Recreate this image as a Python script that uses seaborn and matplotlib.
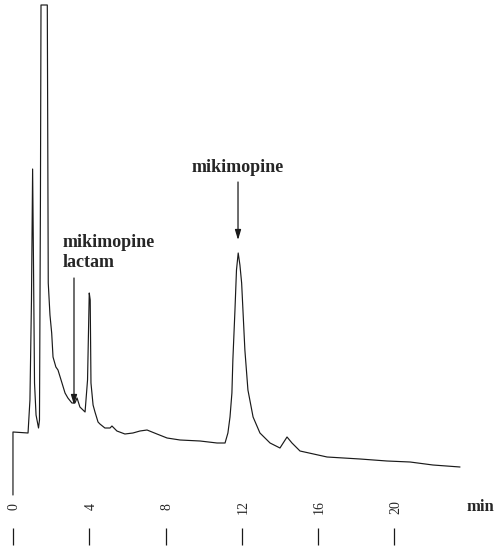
import numpy as np
import pandas as pd
import matplotlib
matplotlib.use('Agg')
import matplotlib.pyplot as plt
import seaborn as sns

#trace (retention time in min, detector signal)
time_min = [0.00, 0.00, 0.79, 0.89, 0.97, 1.03, 1.07, 1.13, 1.21, 1.34, 1.39, 1.44,
            1.47, 1.80, 1.85, 1.94, 2.03, 2.10, 2.25, 2.36, 2.57, 2.73, 2.88, 3.09,
            3.25, 3.36, 3.51, 3.78, 3.91, 4.00, 4.05, 4.09, 4.20, 4.30, 4.46, 4.56,
            4.82, 5.09, 5.19, 5.45, 5.87, 6.29, 6.66, 7.03, 7.55, 8.08, 8.76, 9.81,
            10.70, 11.12, 11.27, 11.38, 11.48, 11.53, 11.64, 11.72, 11.81, 11.90, 11.99, 12.16,
            12.32, 12.59, 12.95, 13.48, 14.00, 14.37, 14.63, 15.05, 16.47, 18.20, 19.61, 20.82,
            22.02, 23.44]
signal = [-5, 58, 57, 90, 190, 321, 240, 107, 75, 62, 70, 290,
          485, 485, 207, 175, 157, 133, 123, 120, 107, 97, 92, 87,
          87, 92, 83, 78, 110, 197, 190, 107, 85, 78, 68, 66,
          62, 62, 64, 59, 56, 57, 59, 60, 56, 52, 50, 49,
          47, 47, 57, 73, 97, 130, 180, 220, 237, 225, 207, 140,
          100, 73, 57, 47, 42, 53, 47, 39, 33, 31, 29, 28,
          25, 23]

#time axis
tick_minutes = [0, 4, 8, 12, 16, 20]
tick_labels = ['0', '4', '8', '12', '16', '20']

#peak labels
peak_names = ['mikimopine\nlactam', 'mikimopine']
peak_times = [3.2, 11.8]

trace = pd.DataFrame({'time': time_min, 'signal': signal})

sns.set_style('white')
plt.rcParams['font.family'] = ['Liberation Serif', 'DejaVu Serif']

fig = plt.figure(figsize=(4.97, 5.47), dpi=100)
ax = fig.add_axes([0, 0, 1, 1])
sns.lineplot(data=trace, x='time', y='signal', estimator=None, sort=False,
             color='#1a1a1a', linewidth=0.85, ax=ax)

ax.set_xlim(-0.68, 25.38)
ax.set_ylim(-57, 490)
ax.axis('off')

#hand drawn style time scale below the trace
ax.vlines(tick_minutes, -55, -38, color='#1a1a1a', linewidth=0.9)
for t, lab in zip(tick_minutes, tick_labels):
    ax.text(t + 0.08, -17, lab, rotation=90, ha='center', va='center', fontsize=10)
ax.text(25.25, -17, 'min', ha='right', va='center', fontsize=12, fontweight='bold')

#peak annotations
arrow = dict(arrowstyle='-|>,head_length=0.6,head_width=0.18', color='#1a1a1a', lw=0.9,
             shrinkA=0, shrinkB=0)
ax.annotate('', xy=(peak_times[0], 85), xytext=(peak_times[0], 212), arrowprops=arrow)
ax.text(2.6, 223, peak_names[0], ha='left', va='baseline', fontsize=13,
        fontweight='bold', linespacing=1.2)
ax.annotate('', xy=(peak_times[1], 250), xytext=(peak_times[1], 308), arrowprops=arrow)
ax.text(peak_times[1], 318, peak_names[1], ha='center', va='baseline', fontsize=13,
        fontweight='bold')

plt.savefig('out.png', dpi=100)
